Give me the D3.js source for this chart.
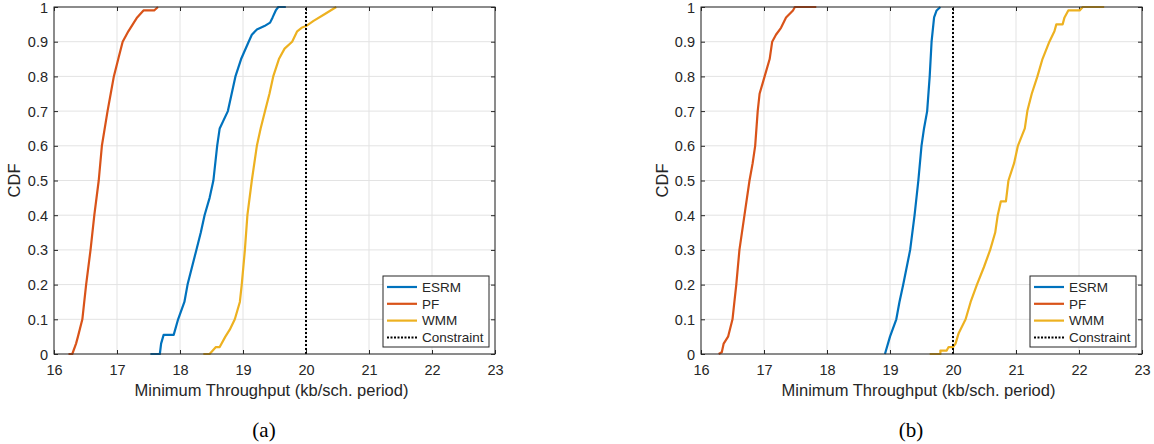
<!DOCTYPE html>
<html>
<head>
<meta charset="utf-8">
<script src="https://cdn.jsdelivr.net/npm/d3@7"></script>
<style>
  body { margin: 0; background: #fff; }
  text { font-family: "Liberation Sans", Arial, Helvetica, sans-serif; fill: #262626; }
  text.caption { font-family: "Liberation Serif", "Times New Roman", serif; fill: #000; }
</style>
</head>
<body>
<script>
// ---------- DATA ----------
const seriesNames = ["ESRM", "PF", "WMM"];
const xTicks = [16, 17, 18, 19, 20, 21, 22, 23];
const yTicks = [0, 0.1, 0.2, 0.3, 0.4, 0.5, 0.6, 0.7, 0.8, 0.9, 1];
const yTickLabels = ["0", "0.1", "0.2", "0.3", "0.4", "0.5", "0.6", "0.7", "0.8", "0.9", "1"];
const constraintValue = 20;
const panelCaptions = ["(a)", "(b)"];

// Panel (a)
const aESRM_x = [17.53,17.68,17.70,17.74,17.90,17.97,18.07,18.12,18.26,18.33,18.39,18.47,18.53,18.59,18.63,18.76,18.82,18.88,18.97,19.09,19.14,19.22,19.34,19.43,19.47,19.52,19.56,19.68];
const aESRM_y = [0,0,0.03,0.055,0.055,0.1,0.15,0.2,0.3,0.35,0.4,0.45,0.5,0.6,0.65,0.7,0.75,0.8,0.85,0.9,0.92,0.935,0.945,0.955,0.97,0.99,1,1];
const aPF_x = [16.23,16.29,16.35,16.38,16.45,16.48,16.51,16.58,16.64,16.71,16.76,16.85,16.90,16.95,17.02,17.09,17.18,17.25,17.32,17.42,17.59,17.65];
const aPF_y = [0,0,0.03,0.05,0.1,0.15,0.2,0.3,0.4,0.5,0.6,0.7,0.75,0.8,0.85,0.9,0.93,0.95,0.97,0.99,0.99,1];
const aWMM_x = [18.37,18.47,18.52,18.57,18.63,18.72,18.79,18.87,18.95,18.98,19.03,19.07,19.14,19.22,19.28,19.35,19.42,19.48,19.57,19.66,19.78,19.86,19.93,20.0,20.12,20.30,20.48];
const aWMM_y = [0,0,0.01,0.02,0.02,0.05,0.07,0.1,0.15,0.2,0.3,0.4,0.5,0.6,0.65,0.7,0.75,0.8,0.85,0.88,0.9,0.93,0.94,0.945,0.96,0.98,1];

// Panel (b)
const bESRM_x = [18.92,19.0,19.1,19.15,19.21,19.32,19.39,19.45,19.5,19.54,19.59,19.63,19.66,19.70,19.74,19.80];
const bESRM_y = [0,0.05,0.1,0.15,0.2,0.3,0.4,0.5,0.6,0.65,0.7,0.8,0.9,0.97,0.99,1];
const bPF_x = [16.28,16.33,16.36,16.43,16.50,16.53,16.56,16.61,16.69,16.77,16.82,16.86,16.90,16.93,17.01,17.09,17.13,17.19,17.27,17.35,17.46,17.49,17.83];
const bPF_y = [0,0.005,0.03,0.05,0.1,0.15,0.2,0.3,0.4,0.5,0.55,0.6,0.7,0.75,0.8,0.85,0.9,0.92,0.94,0.97,0.99,1,1];
const bWMM_x = [19.63,19.80,19.80,19.90,19.93,20.0,20.04,20.09,20.2,20.28,20.38,20.49,20.59,20.67,20.71,20.76,20.84,20.88,20.97,21.03,21.14,21.18,21.25,21.34,21.42,21.53,21.61,21.64,21.74,21.77,21.83,22.01,22.06,22.40];
const bWMM_y = [0,0,0.01,0.01,0.02,0.02,0.03,0.06,0.1,0.15,0.2,0.25,0.3,0.35,0.4,0.44,0.44,0.5,0.55,0.6,0.65,0.7,0.75,0.8,0.85,0.9,0.93,0.95,0.95,0.97,0.99,0.99,1,1];

const colors = ["#0072BD", "#D95319", "#EDB120"];

// ---------- DRAW ----------
const W = 1154, H = 444;
const svg = d3.select("body").append("svg").attr("width", W).attr("height", H);

const panels = [
  { x0: 54, x1: 495, yTop: 7, yBot: 354, labelX: 14, caption: panelCaptions[0], capX: 264,
    series: [[aESRM_x, aESRM_y], [aPF_x, aPF_y], [aWMM_x, aWMM_y]] },
  { x0: 701, x1: 1142, yTop: 7, yBot: 354, labelX: 662, caption: panelCaptions[1], capX: 911,
    series: [[bESRM_x, bESRM_y], [bPF_x, bPF_y], [bWMM_x, bWMM_y]] }
];

panels.forEach((p, pi) => {
  const x = d3.scaleLinear().domain([16, 23]).range([p.x0, p.x1]);
  const y = d3.scaleLinear().domain([0, 1]).range([p.yBot, p.yTop]);
  const g = svg.append("g");

  const clipId = "clip" + pi;
  svg.append("clipPath").attr("id", clipId).append("rect")
    .attr("x", p.x0).attr("y", p.yTop - 2).attr("width", p.x1 - p.x0).attr("height", p.yBot - p.yTop + 4);

  // grid
  g.append("g").selectAll("line").data(xTicks).join("line")
    .attr("x1", d => x(d)).attr("x2", d => x(d)).attr("y1", p.yTop).attr("y2", p.yBot)
    .attr("stroke", "#e3e3e3").attr("stroke-width", 1);
  g.append("g").selectAll("line").data(yTicks).join("line")
    .attr("y1", d => y(d)).attr("y2", d => y(d)).attr("x1", p.x0).attr("x2", p.x1)
    .attr("stroke", "#e3e3e3").attr("stroke-width", 1);

  // axes
  const axB = g.append("g").attr("transform", `translate(0,${p.yBot})`)
    .call(d3.axisBottom(x).tickValues(xTicks).tickFormat(d3.format("d")).tickSizeInner(-4).tickSizeOuter(0).tickPadding(8));
  const axT = g.append("g").attr("transform", `translate(0,${p.yTop})`)
    .call(d3.axisTop(x).tickValues(xTicks).tickFormat("").tickSizeInner(-4).tickSizeOuter(0));
  const axL = g.append("g").attr("transform", `translate(${p.x0},0)`)
    .call(d3.axisLeft(y).tickValues(yTicks).tickFormat((d, i) => yTickLabels[i]).tickSizeInner(-4).tickSizeOuter(0).tickPadding(6));
  const axR = g.append("g").attr("transform", `translate(${p.x1},0)`)
    .call(d3.axisRight(y).tickValues(yTicks).tickFormat("").tickSizeInner(-4).tickSizeOuter(0));
  [axB, axT, axL, axR].forEach(a => {
    a.select(".domain").remove();
    a.selectAll(".tick line").attr("stroke", "#262626");
    a.selectAll(".tick text").attr("font-size", 14.5).attr("fill", "#262626");
  });
  axB.selectAll(".tick text").attr("dy", "0.9em");
  axL.selectAll(".tick text").attr("dy", "0.35em");

  // series lines
  const lineGen = d3.line().x(d => x(d[0])).y(d => y(d[1]));
  p.series.forEach((s, si) => {
    const pts = s[0].map((v, i) => [v, s[1][i]]);
    g.append("path").datum(pts).attr("d", lineGen)
      .attr("fill", "none").attr("stroke", colors[si]).attr("stroke-width", 2.2)
      .attr("stroke-linejoin", "round").attr("clip-path", `url(#${clipId})`);
  });

  // constraint
  g.append("line").attr("x1", x(constraintValue)).attr("x2", x(constraintValue))
    .attr("y1", y(0)).attr("y2", y(1))
    .attr("stroke", "#000").attr("stroke-width", 2).attr("stroke-dasharray", "2,2");

  // box
  g.append("rect").attr("x", p.x0).attr("y", p.yTop).attr("width", p.x1 - p.x0).attr("height", p.yBot - p.yTop)
    .attr("fill", "none").attr("stroke", "#262626").attr("stroke-width", 1);

  // axis labels
  g.append("text").attr("x", (p.x0 + p.x1) / 2 - 3).attr("y", 396).attr("text-anchor", "middle")
    .attr("font-size", 16.5).text("Minimum Throughput (kb/sch. period)");
  g.append("text").attr("transform", `translate(${p.labelX + 6},${(p.yTop + p.yBot) / 2}) rotate(-90)`)
    .attr("text-anchor", "middle").attr("font-size", 16.5).text("CDF");

  // caption
  g.append("text").attr("class", "caption").attr("x", p.capX).attr("y", 437).attr("text-anchor", "middle")
    .attr("font-size", 21).text(p.caption);

  // legend
  const lw = 106, lh = 71;
  const lx = p.x1 - 6 - lw, ly = p.yBot - 7 - lh;
  const lg = g.append("g").attr("transform", `translate(${lx},${ly})`);
  lg.append("rect").attr("width", lw).attr("height", lh).attr("fill", "#fff").attr("stroke", "#262626").attr("stroke-width", 1);
  const entries = seriesNames.map((n, i) => ({ name: n, color: colors[i], dash: null }))
    .concat([{ name: "Constraint", color: "#000", dash: "2,1.5" }]);
  entries.forEach((e, i) => {
    const cy = 11 + i * 16.8;
    lg.append("line").attr("x1", 4).attr("x2", 34).attr("y1", cy).attr("y2", cy)
      .attr("stroke", e.color).attr("stroke-width", e.dash ? 2 : 2.2)
      .attr("stroke-dasharray", e.dash);
    lg.append("text").attr("x", 39).attr("y", cy).attr("dy", "0.35em")
      .attr("font-size", 13.5).text(e.name);
  });
});
</script>
</body>
</html>
